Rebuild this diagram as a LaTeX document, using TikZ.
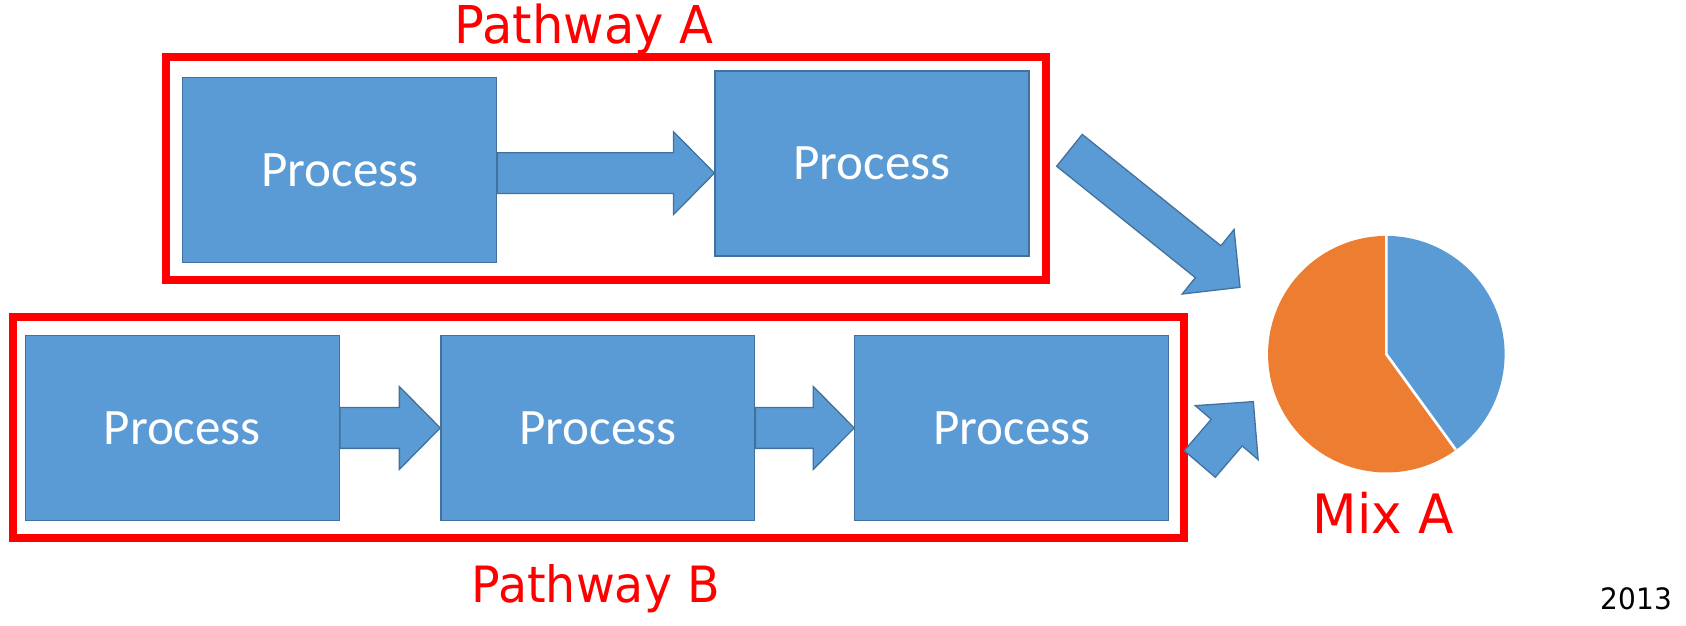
\documentclass[tikz,border=0pt]{standalone}
\usepackage{fontspec}
\usetikzlibrary{calc}
\newfontfamily\procfont{Carlito}
\newfontfamily\labfont[FakeStretch=0.95]{DejaVu Sans}
\definecolor{boxblue}{HTML}{5B9BD5}
\definecolor{boxedge}{HTML}{41719C}
\definecolor{pieorange}{HTML}{ED7D31}
\definecolor{pathred}{HTML}{FF0000}
\tikzset{
  procbox/.style={draw=boxedge, fill=boxblue, line width=1.2pt, minimum width=292pt,
    minimum height=172pt, inner sep=0pt, text=white, font=\procfont\fontsize{47.5}{52}\selectfont},
  pathbox/.style={draw=pathred, line width=7.5pt, inner sep=0pt},
  redlabel/.style={text=pathred, inner sep=0pt, anchor=base},
  blockarrowstyle/.style={draw=boxedge, fill=boxblue, line width=1.2pt, line join=miter},
}
\newcommand{\proctext}{\raisebox{-2.5pt}{Process}}
\newcommand{\blockarrow}[2]{%
  \coordinate (bh) at ($(#2)!38pt!(#1)$);
  \filldraw[blockarrowstyle] ($(#1)!19pt!90:(#2)$) -- ($(bh)!19pt!-90:(#1)$)
    -- ($(bh)!38.5pt!-90:(#1)$) -- (#2) -- ($(bh)!38.5pt!90:(#1)$)
    -- ($(bh)!19pt!90:(#1)$) -- ($(#1)!19pt!-90:(#2)$) -- cycle;
}
\begin{document}
\begin{tikzpicture}[x=1pt, y=-1pt]
\useasboundingbox (0,0) rectangle (1568,582);
\fill[white] (0,0) rectangle (1568,582);

% pathway frames
\node[pathbox, minimum width=818.5pt, minimum height=207pt] (PA) at (563.75,156.5) {};
\node[pathbox, minimum width=1088.5pt, minimum height=205.5pt] (PB) at (556.75,397.75) {};

% process boxes
\node[procbox] (A1) at (316,158) {\proctext};
\node[procbox] (A2) at (811,152) {\proctext};
\node[procbox] (B1) at (169.5,398) {\proctext};
\node[procbox] (B2) at (556,398) {\proctext};
\node[procbox] (B3) at (941,398) {\proctext};

% horizontal block arrows
\coordinate (ya) at (0,161);
\coordinate (a12s) at (A1.east |- ya);
\coordinate (a12t) at (A2.west |- ya);
\blockarrow{a12s}{a12t}
\coordinate (b12s) at (B1.east);
\coordinate (b12t) at (B2.west);
\blockarrow{b12s}{b12t}
\coordinate (b23s) at (B2.east);
\coordinate (b23t) at (B3.west);
\blockarrow{b23s}{b23t}

% arrows to the pie
\coordinate (bigS) at (994.6,139.8);
\coordinate (bigT) at (1153.2,267.2);
\blockarrow{bigS}{bigT}
\coordinate (smS) at (1115.8,431.5);
\coordinate (smT) at (1165.6,373.5);
\blockarrow{smS}{smT}

% pie
\coordinate (pie) at (1289.3,329.4);
\fill[pieorange] (pie) -- ($(pie)+(-54:110pt)$) arc[start angle=-54, end angle=-270, radius=110pt] -- cycle;
\fill[boxblue] (pie) -- ($(pie)+(-54:110pt)$) arc[start angle=-54, end angle=90, radius=110pt] -- cycle;
\draw[white, line width=2.5pt] ($(pie)+(90:110pt)$) -- (pie) -- ($(pie)+(-54:110pt)$);

% labels
\node[redlabel, font=\labfont\fontsize{48.5}{55}\selectfont] (LA) at (543.2,40.3) {Pathway A};
\node[redlabel, font=\labfont\fontsize{46.5}{55}\selectfont] (LB) at (554,560.5) {Pathway B};
\node[redlabel, font=\labfont\fontsize{50.5}{55}\selectfont] (LM) at (1286.5,496) {Mix A};
\node[inner sep=0pt, anchor=base east, font=\labfont\fontsize{27.4}{30}\selectfont] (Y) at (1555,566.4) {2013};
\end{tikzpicture}
\end{document}
